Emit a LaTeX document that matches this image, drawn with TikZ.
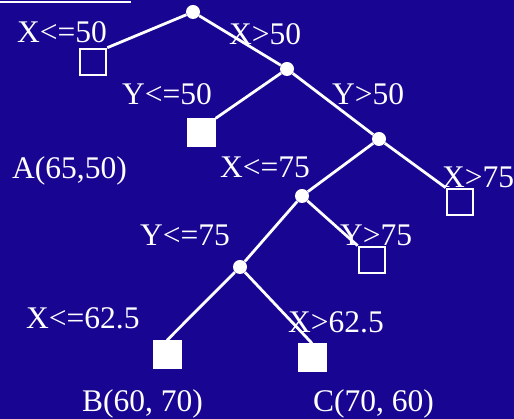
\documentclass[tikz,border=0pt]{standalone}
\usepackage{fontspec}
\setmainfont{Liberation Serif}
\usetikzlibrary{positioning}
\definecolor{SlideBlue}{RGB}{24, 6, 146}
\tikzset{
    split/.style={
        circle, fill=white, inner sep=0pt, minimum size=14pt
    },
    openleaf/.style={
        rectangle, draw=white, line width=2.6pt, inner sep=0pt, minimum size=26pt
    },
    fullleaf/.style={
        rectangle, fill=white, inner sep=0pt, minimum size=29pt
    },
    cond/.style={
        text=white, anchor=base west, inner sep=0pt,
        font=\fontsize{31.5}{32}\selectfont
    },
    branch/.style={
        white, line width=2.8pt
    }
}
\begin{document}
\begin{tikzpicture}[x=1pt, y=1pt]

    % BACKGROUND
    \useasboundingbox (0,0) rectangle (514,419);
    \fill[SlideBlue] (-2,-2) rectangle (516,421);
    \draw[white, line width=2pt] (-2,417) -- (131,417);

    % SPLITS
    \node[split] (rootX) at (193,407) {};
    \node[split] (splitY) at (287,350) {};
    \node[split] (splitX2) at (379,280) {};
    \node[split] (splitY2) at (302,223) {};
    \node[split] (splitX3) at (240,152) {};

    % LEAVES
    \node[openleaf] (leafA) at (93,357) {};
    \node[fullleaf] (leafY) at (201,286) {};
    \node[openleaf] (leafX2) at (460,217) {};
    \node[openleaf] (leafY2) at (372,159) {};
    \node[fullleaf] (leafB) at (167,64) {};
    \node[fullleaf] (leafC) at (312,61) {};

    % BRANCHES
    \draw[branch] (rootX) -- (leafA.north east);
    \draw[branch] (rootX) -- (splitY);
    \draw[branch] (splitY) -- (leafY.north east);
    \draw[branch] (splitY) -- (splitX2);
    \draw[branch] (splitX2) -- (splitY2);
    \draw[branch] (splitX2) -- (leafX2.north west);
    \draw[branch] (splitY2) -- (splitX3);
    \draw[branch] (splitY2) -- (leafY2.north west);
    \draw[branch] (splitX3) -- (leafB.north);
    \draw[branch] (splitX3) -- (leafC.north);

    % CONDITIONS
    \node[cond] (lblXle50) at (17,376) {X<=50};
    \node[cond] (lblXgt50) at (229,374) {X>50};
    \node[cond] (lblYle50) at (122,314) {Y<=50};
    \node[cond] (lblYgt50) at (332,314) {Y>50};
    \node[cond] (lblXle75) at (220,241) {X<=75};
    \node[cond] (lblXgt75) at (442,231) {X>75};
    \node[cond] (lblYle75) at (140,173) {Y<=75};
    \node[cond] (lblYgt75) at (340,173) {Y>75};
    \node[cond] (lblXle62) at (26,90) {X<=62.5};
    \node[cond] (lblXgt62) at (288,86) {X>62.5};

    % POINTS
    \node[cond] (ptA) at (12,240) {A(65,50)};
    \node[cond] (ptB) at (82,7) {B(60, 70)};
    \node[cond] (ptC) at (313,7) {C(70, 60)};

\end{tikzpicture}
\end{document}
